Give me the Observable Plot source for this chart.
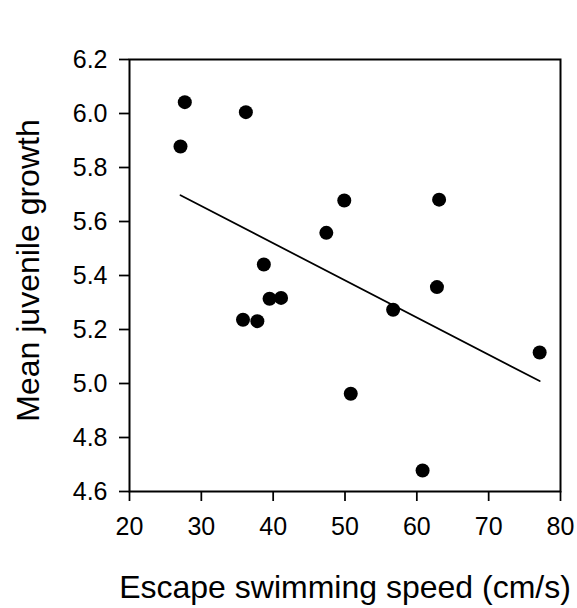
<!DOCTYPE html>
<html>
<head>
<meta charset="utf-8">
<script src="https://cdn.jsdelivr.net/npm/d3@7"></script>
<script src="https://cdn.jsdelivr.net/npm/@observablehq/plot@0.6"></script>
<style>
  html, body { margin: 0; padding: 0; background: #fff; }
</style>
</head>
<body>
<div id="chart"></div>
<script>
const speed  = [27.7, 36.2, 27.1, 49.9, 63.1, 47.4, 38.7, 39.5, 41.1, 35.8, 37.8, 56.7, 62.8, 50.8, 60.8, 77.1];
const growth = [6.042, 6.005, 5.878, 5.678, 5.681, 5.558, 5.441, 5.314, 5.317, 5.236, 5.231, 5.273, 5.357, 4.962, 4.678, 5.115];
const xTicks = [20, 30, 40, 50, 60, 70, 80];
const yTicks = [4.6, 4.8, 5.0, 5.2, 5.4, 5.6, 5.8, 6.0, 6.2];
const xLabel = "Escape swimming speed (cm/s)";
const yLabel = "Mean juvenile growth";

const data = speed.map((s, i) => ({speed: s, growth: growth[i]}));

const chart = Plot.plot({
  width: 577,
  height: 608,
  marginLeft: 129,
  marginRight: 17,
  marginTop: 59,
  marginBottom: 117,
  style: {fontFamily: "'Liberation Sans', Arial, sans-serif", fontSize: "25px", color: "black", background: "white"},
  x: {domain: [20, 80]},
  y: {domain: [4.6, 6.2]},
  marks: [
    Plot.axisX({ticks: xTicks, tickSize: 10, tickPadding: 16, strokeWidth: 1.75, fontSize: 25, label: null}),
    Plot.axisY({ticks: yTicks, tickSize: 10, tickPadding: 12, strokeWidth: 1.75, fontSize: 25, tickFormat: d3.format(".1f"), label: null}),
    Plot.frame({stroke: "black", strokeWidth: 2}),
    Plot.linearRegressionY(data, {x: "speed", y: "growth", ci: 0, stroke: "black", strokeWidth: 1.75}),
    Plot.dot(data, {x: "speed", y: "growth", r: 7, fill: "black", stroke: "none"}),
    Plot.text([xLabel], {frameAnchor: "bottom", text: d => d, textAnchor: "middle", lineAnchor: "bottom", dy: 106, fontSize: 32, fill: "black"}),
    Plot.text([yLabel], {frameAnchor: "left", text: d => d, textAnchor: "middle", rotate: -90, lineAnchor: "bottom", dx: -91, dy: -5, fontSize: 32, fill: "black"})
  ]
});
document.getElementById("chart").appendChild(chart);
</script>
</body>
</html>
